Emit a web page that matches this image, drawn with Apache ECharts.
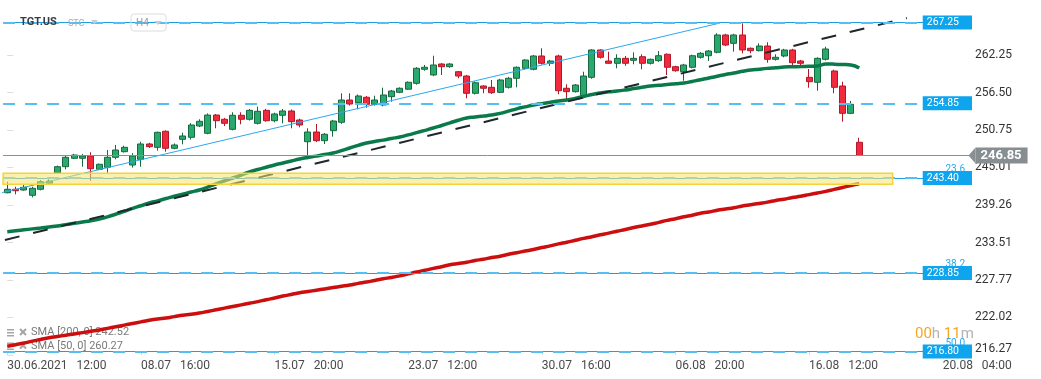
<!DOCTYPE html>
<html><head><meta charset="utf-8">
<script src="https://cdn.jsdelivr.net/npm/echarts@6/dist/echarts.min.js"></script>
<style>html,body{margin:0;padding:0;background:#fff}#c{width:1041px;height:379px}</style>
</head><body><div id="c"></div>
<script>
// ---- data ----
const opens  = [241.14,241.67,241.56,240.75,241.67,242.59,244.21,245.13,246.42,246.42,246.77,244.73,245.04,246.57,247.43,245.39,246.26,248.61,248.10,250.56,247.95,249.33,249.64,251.37,250.25,253.05,252.40,250.86,253.01,252.40,251.78,253.77,252.18,253.01,253.67,252.29,248.96,250.45,249.12,250.65,251.94,255.35,254.94,255.77,254.69,254.59,255.86,256.53,257.01,257.91,260.06,259.19,260.87,260.46,259.69,259.03,256.38,257.50,257.30,256.53,257.30,258.68,260.21,260.06,262.10,260.98,262.10,257.15,256.63,256.01,258.83,263.02,261.33,260.98,261.74,261.44,261.99,260.98,261.38,262.36,260.46,259.69,260.37,261.90,262.14,262.66,265.32,264.04,265.32,263.28,262.91,263.63,261.59,262.10,263.02,261.33,258.83,258.07,261.59,259.80,257.50,253.31,248.87];
const closes = [241.67,241.45,241.97,241.82,242.83,242.94,245.13,246.57,246.92,246.77,244.82,245.50,246.57,247.69,248.10,246.77,248.61,248.20,250.40,247.95,248.46,249.84,251.52,252.09,253.05,252.18,251.78,253.01,252.40,253.77,253.62,252.18,253.21,253.67,252.03,251.52,250.45,249.12,250.10,252.13,255.35,254.74,255.97,254.69,255.35,256.12,256.73,257.15,258.07,260.21,260.37,260.72,260.46,260.87,259.03,256.38,258.00,257.15,256.47,258.42,258.68,260.37,261.48,262.10,260.98,261.33,256.78,256.63,257.65,259.03,263.02,261.90,260.98,261.74,260.98,261.74,260.98,261.59,262.14,260.37,259.84,260.72,262.14,262.51,262.86,265.32,263.78,265.32,263.02,262.91,263.63,261.59,261.90,263.02,261.07,260.98,258.16,261.74,263.17,257.30,253.31,254.69,246.85];
const lows   = [241.05,240.90,241.45,240.44,241.50,242.40,244.00,244.73,246.30,245.13,242.98,244.60,244.21,246.26,247.30,245.00,245.13,248.00,247.58,247.43,247.80,248.56,249.30,251.20,250.10,251.02,251.37,250.70,251.63,252.20,251.60,252.03,251.93,251.78,251.02,251.17,246.92,248.90,248.61,249.73,251.70,254.50,253.93,254.17,254.50,254.40,255.09,256.40,256.90,257.70,259.84,259.00,259.19,260.30,258.68,255.61,256.20,256.38,256.27,256.40,257.10,257.30,260.00,259.90,260.80,260.56,256.23,255.35,256.50,255.80,258.60,261.70,260.90,260.21,260.60,260.83,260.06,260.80,261.20,259.19,259.70,258.31,260.20,261.70,261.33,262.50,263.60,262.76,262.51,262.51,262.80,261.07,261.40,261.90,260.56,260.60,257.24,256.78,261.40,256.38,252.03,253.20,246.80];
const highs  = [242.83,242.06,242.32,242.06,243.09,243.20,245.30,246.92,247.10,247.08,247.34,245.60,247.69,248.46,248.35,247.20,248.96,248.80,250.50,250.70,248.70,250.34,251.80,252.40,253.30,253.20,252.60,253.47,253.47,253.97,254.33,254.00,253.41,253.97,253.90,252.50,251.02,251.67,250.30,252.30,256.38,256.38,256.20,255.97,256.01,257.24,256.90,257.30,258.20,260.40,260.72,262.14,261.00,261.00,259.80,259.20,258.20,257.60,258.42,258.60,258.90,260.50,261.60,262.25,263.28,261.50,262.30,257.76,257.80,259.69,263.12,263.12,262.76,262.36,262.10,262.66,262.36,261.70,262.86,262.50,260.60,260.90,262.30,262.70,263.00,265.58,265.50,265.50,267.10,263.40,264.04,264.20,262.36,263.20,263.20,261.50,260.10,261.90,263.52,260.00,258.16,255.20,249.57];
const sma50  = [235.17,235.30,235.45,235.60,235.75,235.90,236.04,236.25,236.45,236.65,236.85,237.10,237.45,237.85,238.30,238.75,239.15,239.57,239.90,240.25,240.60,240.90,241.25,241.56,242.00,242.50,242.95,243.40,243.85,244.32,244.70,245.05,245.40,245.70,246.00,246.31,246.55,246.75,247.00,247.23,247.60,248.00,248.40,248.76,249.00,249.20,249.45,249.68,250.00,250.35,250.70,251.06,251.45,251.85,252.25,252.59,252.75,252.90,253.05,253.30,253.65,254.00,254.30,254.59,254.80,255.00,255.20,255.35,255.60,255.90,256.20,256.43,256.60,256.73,256.90,257.10,257.30,257.50,257.62,257.72,257.84,257.96,258.20,258.45,258.73,259.00,259.25,259.49,259.75,259.95,260.08,260.20,260.30,260.41,260.45,260.48,260.52,260.56,260.87,260.85,260.80,260.72,260.27];
const sma200 = [217.60,217.85,218.10,218.40,218.65,218.90,219.10,219.30,219.50,219.70,219.90,220.10,220.35,220.60,220.85,221.10,221.35,221.60,221.80,221.95,222.15,222.35,222.50,222.70,222.95,223.20,223.45,223.70,223.95,224.20,224.45,224.75,225.00,225.30,225.55,225.80,226.00,226.20,226.40,226.60,226.80,227.00,227.25,227.45,227.70,227.95,228.15,228.40,228.70,229.00,229.25,229.55,229.80,230.10,230.30,230.50,230.75,230.95,231.20,231.40,231.70,231.95,232.20,232.45,232.75,233.00,233.30,233.55,233.85,234.15,234.40,234.70,234.95,235.25,235.50,235.80,236.05,236.30,236.60,236.90,237.15,237.45,237.70,238.00,238.20,238.45,238.65,238.85,239.10,239.30,239.50,239.70,239.95,240.15,240.40,240.60,240.85,241.10,241.35,241.65,241.95,242.25,242.52];
const xTickIdx   = [0,16,32,48,64,80,96,112];
const xTickDates = ['30.06.2021','08.07','15.07','23.07','30.07','06.08','16.08','20.08'];
const xTickTimes = ['12:00','16:00','20:00','12:00','16:00','20:00','12:00','04:00'];
const yTicks = [216.27,222.02,227.77,233.51,239.26,245.01,250.75,256.50,262.25];
const dashedLevels = [267.25,254.85,243.40,228.85,216.80];
const solidLevels  = [267.25,243.40,228.85,216.80];
const fibLabels    = ['','23.6','38.2','50.0'];
const lastPrice = 246.85;
const band = [[-0.5,244.12],[106.0,242.43]];
const trendBlack = [[-0.28,233.90],[107.7,267.92]];
const trendBlue  = [[-0.87,241.10],[85.32,267.15]];
const legendRows = [['SMA [200, 0]','242.52'],['SMA [50, 0]','260.27']];
const symbolName = 'TGT.US', symbolSub = 'STC', period = 'H4';
const countdown = ['00','h ','11','m'];
const SLOTS = 116;

// ---- chart ----
const chart = echarts.init(document.getElementById('c'), null, {renderer:'canvas'});
const cats = Array.from({length:SLOTS},(_,i)=>String(i));
const candles = opens.map((o,i)=>[o,closes[i],lows[i],highs[i]]);
const FONT = 'Roboto';

const option = {
  animation:false,
  backgroundColor:'#ffffff',
  grid:{left:3.1,right:69,top:0,bottom:24,containLabel:false},
  xAxis:[{
    type:'category',data:cats,boundaryGap:true,
    axisLine:{show:false},
    axisTick:{show:true,inside:true,length:4,alignWithLabel:true,interval:(i)=>xTickIdx.includes(i),lineStyle:{color:'#d8d8d8'}},
    axisLabel:{show:true,interval:(i)=>xTickIdx.includes(i),align:'left',margin:5,hideOverlap:false,overflow:'none',
      fontFamily:FONT,fontSize:12,color:'#4a4a4a',
      formatter:(v)=>{const k=xTickIdx.indexOf(Number(v));return k<0?'':xTickDates[k]+'   '+xTickTimes[k];}},
    splitLine:{show:false}
  },{
    type:'value',min:-0.5,max:SLOTS-0.5,show:false,gridIndex:0
  }],
  yAxis:[{
    type:'value',position:'right',min:216.27,max:270.68,scale:true,
    splitLine:{show:false},axisLine:{show:false},
    axisTick:{show:true,length:6,lineStyle:{color:'#dddddd'},customValues:yTicks},
    axisLabel:{show:true,margin:3,customValues:yTicks,fontFamily:FONT,fontSize:12,color:'#333',
      formatter:(v)=>Math.abs(v-yTicks[0])<0.001?'{b|'+v.toFixed(2)+'}':v.toFixed(2),
      rich:{b:{fontFamily:FONT,fontSize:12,color:'#333',padding:[0,0,12,0]}}}
  }],
  series:[
    {type:'candlestick',xAxisIndex:0,data:candles,barWidth:6.5,z:3,
      itemStyle:{color:'#2aa96e',color0:'#f22a3e',borderColor:'#17683f',borderColor0:'#b0182b',borderWidth:1}},
    {type:'line',xAxisIndex:0,data:sma200,showSymbol:false,smooth:true,z:4,
      lineStyle:{color:'#cc0f0e',width:3.5}},
    {type:'line',xAxisIndex:0,data:sma50,showSymbol:false,smooth:true,z:4,
      lineStyle:{color:'#0a7a4a',width:3.5}},
    {type:'line',xAxisIndex:1,data:trendBlack,showSymbol:false,z:4,
      lineStyle:{color:'#1e272c',width:2,type:[15,14]}},
    {type:'line',xAxisIndex:1,data:trendBlue,showSymbol:false,z:4,
      lineStyle:{color:'#29a8ee',width:1},
      markLine:{silent:true,symbol:['none','none'],z:5,
        data:solidLevels.map((v,k)=>({yAxis:v,
          lineStyle:{color:'#1f9fe2',width:1,type:'solid'},
          label:{show:!!fibLabels[k],position:'insideEndTop',distance:[7,3],formatter:fibLabels[k],
            color:'#2aa8ee',fontFamily:FONT,fontSize:10}}))}},
    {type:'line',xAxisIndex:1,data:[],z:6,
      markLine:{silent:true,symbol:['none','none'],z:6,
        data:dashedLevels.map(v=>({yAxis:v,
          lineStyle:{color:'#55bff3',width:2,type:[12,10]},
          label:{show:true,position:'insideEnd',distance:0,formatter:v.toFixed(2),
            backgroundColor:'#0ea5ee',color:'#fff',fontFamily:FONT,fontSize:10.5,padding:[2,13,1,4]}}))}},
    {type:'line',xAxisIndex:1,data:[],z:7,
      markLine:{silent:true,symbol:['none','triangle'],symbolSize:[16,7],symbolRotate:90,z:7,
        data:[{yAxis:lastPrice,
          itemStyle:{color:'#878e92'},
          lineStyle:{color:'#8a8f93',width:1,type:'solid'},
          label:{show:true,position:'end',distance:3.5,formatter:lastPrice.toFixed(2),
            backgroundColor:'#878e92',color:'#fff',fontFamily:FONT,fontSize:13,fontWeight:'bold',padding:[2,6,1,5]}}]}},
    {type:'line',xAxisIndex:1,data:[],z:10,
      markArea:{silent:true,z:10,
        itemStyle:{color:'rgba(250,228,110,0.55)',borderColor:'#f4d33c',borderWidth:1.5},
        data:[[{xAxis:band[0][0],yAxis:band[0][1]},{xAxis:band[1][0],yAxis:band[1][1]}]]}}
  ],
  graphic:[
    {type:'text',left:20,top:17,z:20,style:{text:symbolName,font:'bold 11px Roboto',fill:'#3c3c3c'}},
    {type:'text',left:68,top:19,z:20,style:{text:symbolSub,font:'9px Roboto',fill:'#a8adb3'}},
    {type:'polygon',z:20,shape:{points:[[91,20],[98,20],[94.5,24]]},style:{fill:'#c8ccd0'}},
    {type:'rect',z:20,shape:{x:131,y:14,width:35,height:17,r:3},style:{fill:'none',stroke:'#dcdcdc',lineWidth:1}},
    {type:'text',left:136,top:18,z:20,style:{text:period,font:'10px Roboto',fill:'#9a9a9a'}},
    {type:'polygon',z:20,shape:{points:[[154,21],[162,21],[158,25]]},style:{fill:'#c8ccd0'}},
    ...legendRows.flatMap((r,k)=>{const y=333+k*13.5;return [
      {type:'rect',z:1,shape:{x:7,y:y-4,width:7,height:1.5},style:{fill:'#a5a5a5'}},
      {type:'rect',z:1,shape:{x:7,y:y-1,width:7,height:1.5},style:{fill:'#a5a5a5'}},
      {type:'rect',z:1,shape:{x:7,y:y+2,width:7,height:1.5},style:{fill:'#a5a5a5'}},
      {type:'line',z:1,shape:{x1:20,y1:y-4,x2:26,y2:y+2},style:{stroke:'#a5a5a5',lineWidth:2}},
      {type:'line',z:1,shape:{x1:26,y1:y-4,x2:20,y2:y+2},style:{stroke:'#a5a5a5',lineWidth:2}},
      {type:'text',z:1,left:31,top:y-6,style:{text:r[0]+' '+r[1],font:'11px Roboto',fill:'#7a7a7a'}}
    ];}),
    {type:'text',z:20,left:915,top:327,style:{text:'{o|'+countdown[0]+'}{g|'+countdown[1]+'}{o|'+countdown[2]+'}{g|'+countdown[3]+'}',
      rich:{o:{fontFamily:FONT,fontSize:15,fill:'#f5a623',color:'#f5a623'},g:{fontFamily:FONT,fontSize:15,fill:'#b3b3b3',color:'#b3b3b3'}}}}
  ]
};
chart.setOption(option);
</script>
</body></html>
